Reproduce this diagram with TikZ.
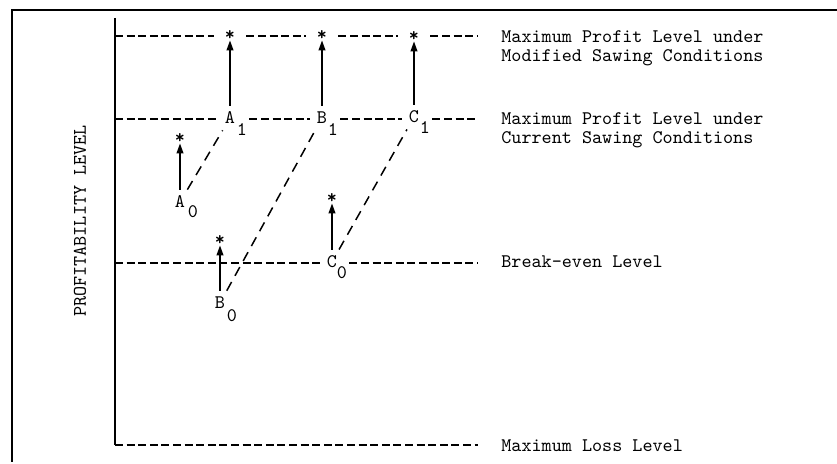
\documentclass[tikz,border=0pt]{standalone}
\usetikzlibrary{arrows.meta}
\begin{document}
\begin{tikzpicture}[x=0.5pt,y=-0.5pt,
    every node/.style={inner sep=1pt,font=\ttfamily\fontsize{9.6}{9.7}\selectfont},
    pt/.style={inner xsep=3.5pt,inner ysep=3pt},
    sub/.style={inner sep=1pt},
    ast/.style={inner sep=0pt,minimum width=16pt,font=\ttfamily\bfseries\fontsize{9.6}{9.7}\selectfont},
    note/.style={anchor=west,inner sep=0pt,align=left},
    level/.style={dash pattern=on 4pt off 1.8pt,line width=0.75pt},
    link/.style={dash pattern=on 5pt off 3.5pt,line width=0.75pt},
    up/.style={-{Triangle[length=5pt,width=3.4pt]},line width=0.75pt}]
\useasboundingbox (0,0) rectangle (837,464);
\draw[line width=1.2pt] (837,10) -- (12,10) -- (12,462);
\node[rotate=90] (ylab) at (80,221) {PROFITABILITY LEVEL};
\coordinate (ytop) at (115,18);
\coordinate (o) at (115,445);
\coordinate (l1) at (478,445);
\coordinate (t0) at (115,36);
\coordinate (t1) at (478,36);
\coordinate (c0) at (115,119);
\coordinate (c1) at (478,119);
\coordinate (b0) at (115,263);
\coordinate (b1) at (478,263);
\draw[line width=0.8pt] (ytop) -- (o);
% points
\node[pt] (A1) at (230,118) {A};
\node[sub] (A1i) at (242,130) {1};
\node[pt] (B1) at (322,118) {B};
\node[sub] (B1i) at (333,130) {1};
\node[pt] (C1) at (414,117) {C};
\node[sub] (C1i) at (425,128) {1};
\node[pt] (A0) at (180,202) {A};
\node[sub] (A0i) at (193,212) {0};
\node[pt] (B0) at (220,303) {B};
\node[sub] (B0i) at (232,316) {0};
\node[pt] (C0) at (332,262) {C};
\node[sub] (C0i) at (342,273) {0};
\node[ast] (As) at (230,35) {*};
\node[ast] (Bs) at (322,35) {*};
\node[ast] (Cs) at (414,36) {*};
\node[ast] (A0s) at (180,138) {*};
\node[ast] (B0s) at (220,240) {*};
\node[ast] (C0s) at (332,198) {*};
% levels
\draw[level] (t0) -- (As.west |- t0);
\draw[level] (As.east |- t0) -- (Bs.west |- t0);
\draw[level] (Bs.east |- t0) -- (Cs.west |- t0);
\draw[level] (Cs.east |- t0) -- (t1);
\draw[level] (c0) -- (A1.west |- c0);
\draw[level] (A1i.east |- c0) -- (B1.west |- c0);
\draw[level] (B1i.east |- c0) -- (C1.west |- c0);
\draw[level] (C1i.east |- c0) -- (c1);
\draw[level] (b0) -- (C0.west |- b0);
\draw[level] (C0i.east |- b0) -- (b1);
\draw[level] (o) -- (l1);
% moves
\draw[link] (A0) -- (A1);
\draw[link] (B0) -- (B1);
\draw[link] (C0) -- (C1);
\draw[up] (A1) -- (As);
\draw[up] (B1) -- (Bs);
\draw[up] (C1) -- (Cs);
\draw[up] (A0) -- (A0s);
\draw[up] (B0) -- (B0s);
\draw[up] (C0) -- (C0s);
% notes
\node[note] (n1) at (501,48) {Maximum Profit Level under\\Modified Sawing Conditions};
\node[note] (n2) at (501,130) {Maximum Profit Level under\\Current Sawing Conditions};
\node[note] (n3) at (501,262) {Break-even Level};
\node[note] (n4) at (501,446) {Maximum Loss Level};
\end{tikzpicture}
\end{document}
